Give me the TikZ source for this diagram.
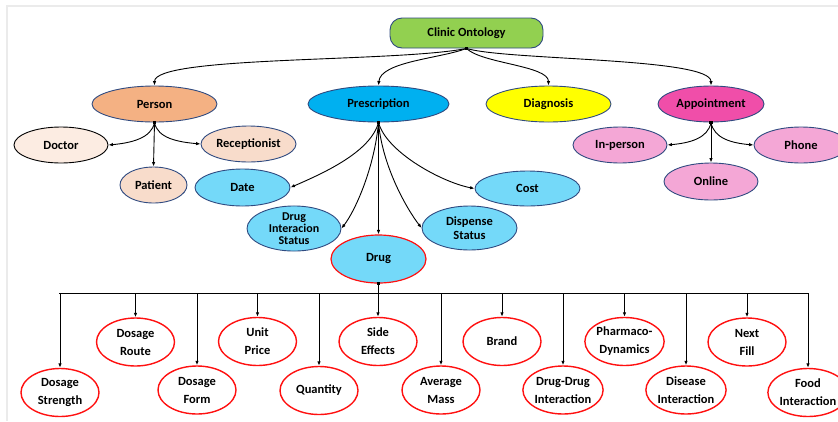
\documentclass[tikz,border=0pt]{standalone}
\usepackage{fontspec}
\setmainfont{Carlito}
\usetikzlibrary{shapes.geometric,arrows.meta}

\definecolor{navy}{HTML}{2F4A80}
\definecolor{rootgreen}{HTML}{92D050}
\definecolor{personor}{HTML}{F4B183}
\definecolor{personlt}{HTML}{F8DCCB}
\definecolor{doctorlt}{HTML}{FCECE2}
\definecolor{prescblue}{HTML}{00B0F0}
\definecolor{presclt}{HTML}{74D9F9}
\definecolor{diagyel}{HTML}{FFFF00}
\definecolor{apptpink}{HTML}{F04EA9}
\definecolor{apptlt}{HTML}{F4A7D6}
\definecolor{drugred}{HTML}{FF1010}

\tikzset{
  x=1pt, y=-1pt,
  txt/.style={font=\bfseries\fontsize{12.5}{13.5}\selectfont, align=center, text=black},
  oval/.style={ellipse, draw=navy, line width=0.9pt, inner sep=0pt, txt},
  rootbox/.style={rounded corners=12pt, draw=navy, line width=0.9pt, fill=rootgreen,
    minimum width=153pt, minimum height=30pt, inner sep=0pt, txt},
  prop/.style={ellipse, draw=drugred, line width=1.4pt, fill=white, inner sep=0pt,
    minimum width=78pt, minimum height=48pt, txt, font=\bfseries\fontsize{12.5}{18}\selectfont},
  link/.style={line width=0.9pt, -{Latex[length=4.5pt,width=3.5pt]}},
  plain/.style={line width=0.9pt},
  hub/.style={rectangle, fill=black, inner sep=0pt, minimum size=3.2pt},
  frameline/.style={draw=black!8, line width=1.2pt}
}

\begin{document}
\begin{tikzpicture}
\useasboundingbox (0,0) rectangle (838,421);
\clip (0,0) rectangle (838,421);

% faint page frame
\draw[frameline] (7,421) -- (7,6) -- (838,6);

% root
\node[rootbox] (co) at (466.5,33) {Clinic Ontology};

% first level
\node[oval, fill=personor, minimum width=125pt, minimum height=36pt] (person) at (154.5,104) {Person};
\node[oval, fill=prescblue, minimum width=141pt, minimum height=36pt] (presc) at (378.5,104) {Prescription};
\node[oval, fill=diagyel, minimum width=125pt, minimum height=36pt] (diag) at (548.5,104) {Diagnosis};
\node[oval, fill=apptpink, minimum width=106pt, minimum height=36pt] (appt) at (711,104) {Appointment};

% person children
\node[oval, draw=black, fill=doctorlt, minimum width=94pt, minimum height=36pt] (doctor) at (61,145) {Doctor};
\node[oval, fill=personlt, minimum width=95pt, minimum height=36pt] (recep) at (248.5,144) {Receptionist};
\node[oval, fill=personlt, minimum width=67pt, minimum height=36pt] (patient) at (153.5,185) {Patient};

% prescription children
\node[oval, fill=presclt, minimum width=95pt, minimum height=37pt] (date) at (242.5,187.5) {Date};
\node[oval, fill=presclt, minimum width=105pt, minimum height=35pt] (cost) at (527.5,188.5) {Cost};
\node[oval, fill=presclt, minimum width=94pt, minimum height=45pt,
      font=\bfseries\fontsize{12}{12}\selectfont] (dis) at (294,228.5) {Drug\\Interacion\\Status};
\node[oval, fill=presclt, minimum width=95pt, minimum height=44pt,
      font=\bfseries\fontsize{12.5}{14.5}\selectfont] (disp) at (469.5,228) {Dispense\\Status};
\node[oval, draw=drugred, line width=1.2pt, fill=presclt, minimum width=95pt, minimum height=48pt] (drug) at (378.5,259) {Drug};

% appointment children
\node[oval, fill=apptlt, minimum width=94pt, minimum height=36pt] (inperson) at (620,145) {In-person};
\node[oval, fill=apptlt, minimum width=94pt, minimum height=37pt] (online) at (711,181.5) {Online};
\node[oval, fill=apptlt, minimum width=94pt, minimum height=36pt] (phone) at (801,145) {Phone};

% drug properties, upper row
\node[prop] (route)  at (135.5,342) {Dosage\\Route};
\node[prop] (price)  at (257.5,341.5) {Unit\\Price};
\node[prop] (side)   at (378,341.5) {Side\\Effects};
\node[prop] (brand)  at (502,341.5) {Brand};
\node[prop] (pharma) at (624.5,341.5) {Pharmaco-\\Dynamics};
\node[prop] (next)   at (747,342) {Next\\Fill};

% drug properties, lower row
\node[prop] (strength) at (60,392.5) {Dosage\\Strength};
\node[prop] (form)     at (197,390) {Dosage\\Form};
\node[prop] (qty)      at (319,390.5) {Quantity};
\node[prop] (mass)     at (441,390) {Average\\Mass};
\node[prop] (ddi)      at (563,390) {Drug-Drug\\Interaction};
\node[prop] (disease)  at (686,390) {Disease\\Interaction};
\node[prop] (food)     at (808,392.5) {Food\\Interaction};

% root connectors
\draw[link] (co.south) .. controls +(-70,14) and +(0,-30) .. (person.north);
\draw[link] (co.south) .. controls +(-26,10) and +(2,-24) .. (presc.north);
\draw[link] (co.south) .. controls +(15,15) and +(0,-20) .. (diag.north);
\draw[link] (co.south) .. controls +(40,12) and +(0,-28) .. (appt.north);

% person connectors
\draw[link] (person.south) .. controls +(-3,16) and +(22,-2) .. (doctor.east);
\draw[link] (person.south) .. controls +(3,16) and +(-22,-2) .. (recep.west);
\draw[link] (person.south) -- (patient.north);

% prescription connectors
\draw[link] (presc.south) .. controls +(-8,30) and +(32,-14) .. (date.east);
\draw[link] (presc.south) .. controls +(-4,45) and +(14,-18) .. (dis.east);
\draw[link] (presc.south) -- (drug.north);
\draw[link] (presc.south) .. controls +(4,45) and +(-14,-18) .. (disp.west);
\draw[link] (presc.south) .. controls +(8,30) and +(-32,-6) .. (cost.west);

% appointment connectors
\draw[link] (appt.south) .. controls +(-3,16) and +(22,-2) .. (inperson.east);
\draw[link] (appt.south) -- (online.north);
\draw[link] (appt.south) .. controls +(3,16) and +(-22,-2) .. (phone.west);

% drug bus
\coordinate (busL) at (59,293);
\coordinate (busR) at (809,293);
\draw[plain] (drug.south) -- (drug.south |- busL);
\draw[plain] (busL) -- (busR);
\foreach \n in {strength,route,form,price,qty,side,mass,brand,ddi,pharma,disease,next,food}
  \draw[link] (\n.north |- busL) -- (\n.north);

% branch hubs
\node[hub] (h0) at (co.south) {};
\node[hub] (h1) at (person.south) {};
\node[hub] (h2) at (presc.south) {};
\node[hub] (h3) at (appt.south) {};
\node[hub] (h4) at (drug.south) {};
\end{tikzpicture}
\end{document}
